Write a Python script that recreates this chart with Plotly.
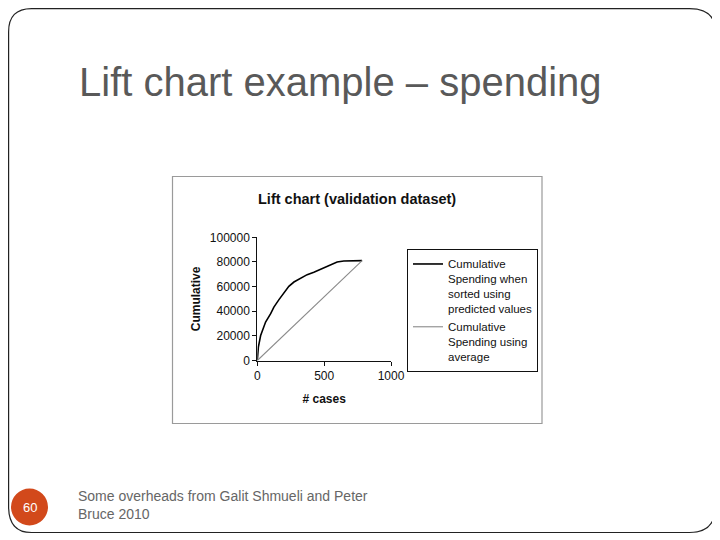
import plotly.graph_objects as go

# ---- data ----
cases_sorted = [0, 2, 8, 25, 50, 62, 100, 124, 162, 199, 236, 274, 323, 373, 423, 473, 510, 560, 597, 647, 784]
spend_sorted = [0, 5000, 10800, 20300, 28500, 31200, 38000, 43400, 49400, 55000, 60200, 63700, 67000, 69700,
                71600, 74000, 75400, 78100, 80000, 80800, 81100]
cases_avg = [0, 784]
spend_avg = [0, 81100]
x_ticks = [0, 500, 1000]
y_ticks = [0, 20000, 40000, 60000, 80000, 100000]

# page body adds an 8px margin; figure fills the remaining window
OX, OY = 8, 8
W, H = 712, 532


def px(x):
    return max(x - OX, 0.6) / W


def py(y):
    return 1 - max(y - OY, 0.6) / H


fig = go.Figure()
fig.add_trace(go.Scatter(
    x=cases_sorted, y=spend_sorted, mode="lines",
    name="Cumulative<br>Spending when<br>sorted using<br>predicted values",
    line=dict(color="#000000", width=1.6),
))
fig.add_trace(go.Scatter(
    x=cases_avg, y=spend_avg, mode="lines",
    name="Cumulative<br>Spending using<br>average",
    line=dict(color="#8a8a8a", width=1.1),
))


def rounded_rect(x0, y0, x1, y1, r):
    pts = [
        f"M{px(x0 + r)},{py(y0)}",
        f"L{px(x1 - r)},{py(y0)}",
        f"Q{px(x1)},{py(y0)} {px(x1)},{py(y0 + r)}",
        f"L{px(x1)},{py(y1 - r)}",
        f"Q{px(x1)},{py(y1)} {px(x1 - r)},{py(y1)}",
        f"L{px(x0 + r)},{py(y1)}",
        f"Q{px(x0)},{py(y1)} {px(x0)},{py(y1 - r)}",
        f"L{px(x0)},{py(y0 + r)}",
        f"Q{px(x0)},{py(y0)} {px(x0 + r)},{py(y0)}",
        "Z",
    ]
    return " ".join(pts)


shapes = [
    # slide border
    dict(type="path", xref="paper", yref="paper", path=rounded_rect(5.5, 6, 715.5, 532.5, 26),
         line=dict(color="#222222", width=1.2), fillcolor="rgba(0,0,0,0)", layer="below"),
    # chart picture frame
    dict(type="rect", xref="paper", yref="paper", x0=px(172.5), x1=px(542), y0=py(176.5), y1=py(423.5),
         line=dict(color="#9a9a9a", width=1.2), fillcolor="white", layer="below"),
    # page number circle
    dict(type="circle", xref="paper", yref="paper", x0=px(11), x1=px(48), y0=py(488.5), y1=py(525.5),
         line=dict(color="#D2491B", width=0), fillcolor="#D2491B", layer="above"),
]

annotations = [
    dict(text="Lift chart example – spending", x=px(77), y=py(82), xref="paper", yref="paper",
         xanchor="left", yanchor="middle", showarrow=False,
         font=dict(family="Liberation Sans, Arial", size=40, color="#595959")),
    dict(text="<b>Lift chart (validation dataset)</b>", x=px(357), y=py(199), xref="paper", yref="paper",
         xanchor="center", yanchor="middle", showarrow=False,
         font=dict(family="Liberation Sans, Arial", size=14.5, color="#111111")),
    dict(text="60", x=px(29.5), y=py(507.5), xref="paper", yref="paper",
         xanchor="center", yanchor="middle", showarrow=False,
         font=dict(family="Liberation Sans, Arial", size=13, color="white")),
    dict(text="Some overheads from Galit Shmueli and Peter<br>Bruce 2010", x=px(76), y=py(505),
         xref="paper", yref="paper", xanchor="left", yanchor="middle", align="left", showarrow=False,
         font=dict(family="Liberation Sans, Arial", size=14, color="#666666")),
]

axis_font = dict(family="Liberation Sans, Arial", size=12, color="#111111")

fig.update_layout(
    width=W, height=H,
    margin=dict(l=0, r=0, t=0, b=0, pad=0),
    paper_bgcolor="white", plot_bgcolor="white",
    showlegend=True,
    legend=dict(x=px(407), y=py(249), xanchor="left", yanchor="top", valign="top",
                bordercolor="#111111", borderwidth=1, bgcolor="white",
                font=dict(family="Liberation Sans, Arial", size=11.5, color="#111111"),
                itemwidth=30, tracegroupgap=4),
    xaxis=dict(domain=[px(257.3), px(391)], range=[0, 1000], tickvals=x_ticks, tickformat="d",
               automargin=False,
               showgrid=False, zeroline=False, showline=True, linecolor="#111111", linewidth=1,
               ticks="outside", ticklen=4, tickcolor="#111111", tickfont=axis_font,
               title=dict(text="<b># cases</b>", font=axis_font, standoff=12)),
    yaxis=dict(domain=[py(360.5), py(237.3)], range=[0, 100000], tickvals=y_ticks, tickformat="d",
               automargin=False,
               showgrid=False, zeroline=False, showline=True, linecolor="#111111", linewidth=1,
               ticks="outside", ticklen=4, tickcolor="#111111", tickfont=axis_font,
               title=dict(text="<b>Cumulative</b>", font=axis_font, standoff=6)),
    shapes=shapes,
    annotations=annotations,
)

fig.write_html("out.html")
